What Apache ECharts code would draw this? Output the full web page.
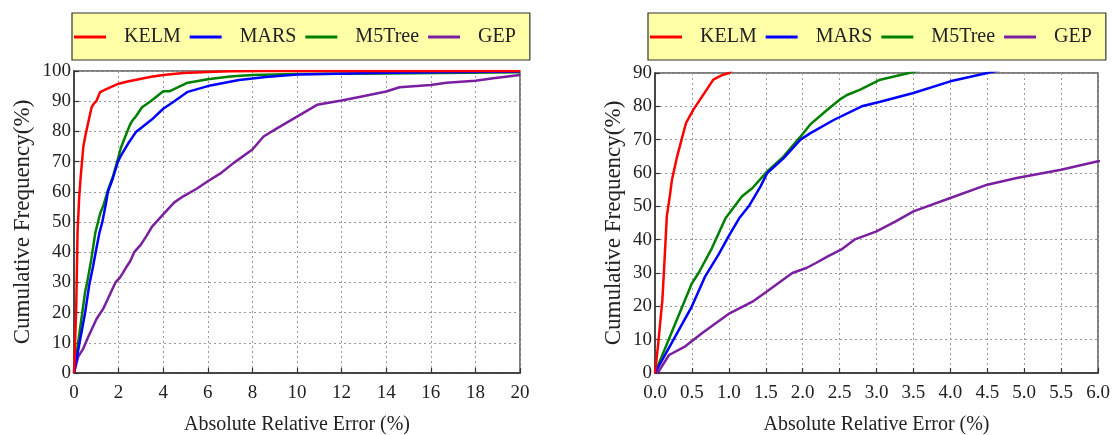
<!DOCTYPE html>
<html>
<head>
<meta charset="utf-8">
<script src="https://cdn.jsdelivr.net/npm/echarts/dist/echarts.min.js"></script>
<style>
  html, body { margin: 0; padding: 0; background: #fff; }
  #chart { width: 1113px; height: 435px; }
</style>
</head>
<body>
<div id="chart"></div>
<script>
// Cumulative frequency (%) of absolute relative error (%) for each model
const modelNames = ['KELM', 'MARS', 'M5Tree', 'GEP'];

const kelmErr  = [0, 0.04, 0.07, 0.1, 0.12, 0.16, 0.2, 0.23, 0.3, 0.36, 0.42, 0.52, 0.61, 0.7, 0.79, 0.9, 1.0, 1.17, 1.4, 1.7, 2.0, 2.4, 2.8, 3.4, 4.0, 4.9, 6.0, 7.0, 8.5, 10, 20];
const kelmFreq = [0, 8, 15, 22, 30, 47, 53, 58, 65, 70, 75, 79, 82, 85, 88, 89.3, 90, 93, 93.8, 94.8, 95.8, 96.5, 97.1, 98, 98.7, 99.3, 99.7, 99.9, 100, 100, 100];

const marsErr  = [0, 0.2, 0.5, 0.68, 0.86, 1.01, 1.14, 1.27, 1.43, 1.52, 1.74, 1.97, 2.1, 2.42, 2.8, 3.05, 3.5, 4.0, 4.5, 5.1, 6.0, 7.4, 8.6, 10, 14, 20];
const marsFreq = [0, 8, 20, 29, 35.5, 41.5, 46.4, 50, 56, 60, 64.4, 70, 71.9, 75.9, 80, 81.4, 84, 87.5, 90, 93.1, 95, 97, 98, 98.8, 99.4, 99.8];

const m5treeErr  = [0, 0.25, 0.5, 0.59, 0.77, 0.955, 1.09, 1.18, 1.32, 1.52, 1.74, 1.97, 2.1, 2.33, 2.5, 2.6, 2.78, 3.05, 3.44, 4.0, 4.3, 5.05, 6.0, 7.0, 8.0, 10, 14, 20];
const m5treeFreq = [0, 13.5, 26.9, 30, 37.4, 46.4, 50.4, 53, 55.5, 60.5, 64.9, 70.9, 74.5, 78.9, 82, 83.4, 85, 88, 90, 93.3, 93.3, 96, 97.3, 98.2, 98.7, 99, 99.2, 99.6];

const gepErr  = [0, 0.05, 0.19, 0.41, 0.64, 1.01, 1.32, 1.51, 1.86, 2.05, 2.18, 2.34, 2.52, 2.7, 3.0, 3.26, 3.5, 4.0, 4.5, 4.9, 5.5, 6.0, 6.55, 7.15, 8.0, 8.5, 9.1, 10, 10.9, 12, 12.85, 14, 14.6, 16, 16.7, 18, 18.8, 20];
const gepFreq = [0, 0.5, 5.4, 8, 12, 17.9, 21.4, 24.4, 30, 31.5, 33, 35, 37, 40, 42.5, 45.5, 48.5, 52.5, 56.5, 58.5, 61, 63.5, 66, 69.5, 74, 78.3, 81, 84.9, 88.8, 90.2, 91.5, 93.2, 94.6, 95.4, 96.1, 96.8, 97.6, 98.7];

const modelColors = ['#ff0000', '#0000ff', '#008000', '#7a1fa0'];

const pairs = (xs, ys) => xs.map((x, i) => [x, ys[i]]);
const curves = [
  pairs(kelmErr, kelmFreq),
  pairs(marsErr, marsFreq),
  pairs(m5treeErr, m5treeFreq),
  pairs(gepErr, gepFreq)
];

const serif = '"Liberation Serif", "Times New Roman", serif';
const textColor = '#222';

function legendFor(left) {
  return {
    left: left,
    top: 13,
    orient: 'horizontal',
    data: modelNames,
    icon: 'rect',
    backgroundColor: '#ffffa8',
    borderColor: '#333',
    borderWidth: 1.2,
    borderRadius: 0,
    padding: [14, 14, 13, 2],
    itemWidth: 32,
    itemHeight: 3,
    itemGap: 9,
    selectedMode: false,
    textStyle: { fontFamily: serif, fontSize: 20, color: textColor, padding: [0, 0, 0, 13] }
  };
}

function xAxisFor(gridIndex, max, interval, digits) {
  return {
    type: 'value',
    gridIndex: gridIndex,
    min: 0, max: max, interval: interval,
    name: 'Absolute Relative Error (%)',
    nameLocation: 'middle',
    nameGap: 42,
    nameTextStyle: { fontFamily: serif, fontSize: 20, color: textColor },
    axisLine: { show: true, lineStyle: { color: '#333', width: 1.5 } },
    axisTick: { show: true, inside: true, length: 5, lineStyle: { color: '#333', width: 1.2 } },
    axisLabel: {
      fontFamily: serif, fontSize: 19, color: textColor, margin: 11,
      formatter: v => v.toFixed(digits)
    },
    splitLine: { show: true, lineStyle: { color: '#999', width: 1, type: [2, 3] } }
  };
}

function yAxisFor(gridIndex, max, nameGap) {
  return {
    type: 'value',
    gridIndex: gridIndex,
    min: 0, max: max, interval: 10,
    name: 'Cumulative Frequency(%)',
    nameLocation: 'middle',
    nameGap: nameGap,
    nameTextStyle: { fontFamily: serif, fontSize: 23, color: textColor },
    axisLine: { show: true, lineStyle: { color: '#333', width: 1.5 } },
    axisTick: { show: true, inside: true, length: 5, lineStyle: { color: '#333', width: 1.2 } },
    axisLabel: { fontFamily: serif, fontSize: 19, color: textColor, margin: 3 },
    splitLine: { show: true, lineStyle: { color: '#999', width: 1, type: [2, 3] } }
  };
}

const series = [];
[0, 1].forEach(g => {
  modelNames.forEach((name, i) => {
    series.push({
      name: name,
      type: 'line',
      xAxisIndex: g,
      yAxisIndex: g,
      data: curves[i],
      symbol: 'none',
      smooth: false,
      clip: true,
      z: 10 - i,
      lineStyle: { color: modelColors[i], width: 2.5 },
      itemStyle: { color: modelColors[i] }
    });
  });
});

const gridBase = { show: true, borderColor: '#555', borderWidth: 1.5, backgroundColor: 'transparent', containLabel: false, outerBoundsMode: 'none' };

const chart = echarts.init(document.getElementById('chart'), null, { renderer: 'canvas' });
chart.setOption({
  animation: false,
  backgroundColor: '#fff',
  legend: [legendFor(72), legendFor(648)],
  grid: [
    Object.assign({ left: 74, top: 71, width: 446, height: 302 }, gridBase),
    Object.assign({ left: 655, top: 73, width: 443, height: 300 }, gridBase)
  ],
  xAxis: [xAxisFor(0, 20, 2, 0), xAxisFor(1, 6, 0.5, 1)],
  yAxis: [yAxisFor(0, 100, 40), yAxisFor(1, 90, 30)],
  series: series
});
</script>
</body>
</html>
